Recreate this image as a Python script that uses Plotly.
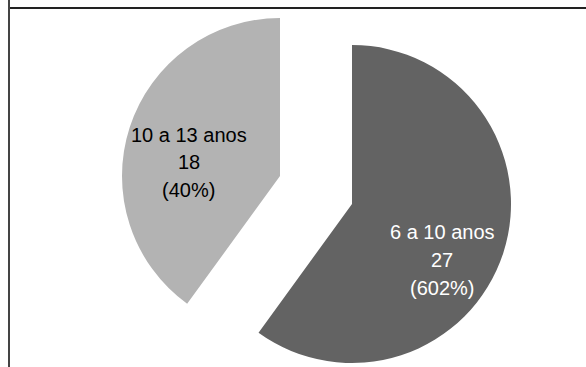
import plotly.graph_objects as go

# Faixas etárias das crianças
labels = ["6 a 10 anos", "10 a 13 anos"]
values = [27, 18]
pct_text = ["602%", "40%"]

colors = ["#636363", "#b3b3b3"]
text_colors = ["#ffffff", "#000000"]

W, H = 586, 367
FONT = "Liberation Sans, Arial, sans-serif"


def domain_for(cx, cy, r):
    # cx, cy in pixels from the top-left corner, r radius in pixels
    return dict(
        x=[(cx - r) / W, (cx + r) / W],
        y=[(H - cy - r) / H, (H - cy + r) / H],
    )


# Each exploded slice is drawn by its own trace; the other slice is left transparent
centers = [(352, 204, 159), (280, 176, 158)]
# Label block positions (centre x, first line y, line step), in pixels
label_pos = [(442, 231.5, 28), (188.5, 134.5, 28)]

fig = go.Figure()
for i in range(len(labels)):
    slice_colors = ["rgba(0,0,0,0)"] * len(labels)
    slice_colors[i] = colors[i]
    cx, cy, r = centers[i]
    fig.add_trace(go.Pie(
        labels=labels,
        values=values,
        sort=False,
        direction="clockwise",
        rotation=0,
        marker=dict(colors=slice_colors, line=dict(width=0)),
        textinfo="none",
        domain=domain_for(cx, cy, r),
        showlegend=False,
        hoverinfo="skip",
    ))

    # Data label: category, count and percentage on three lines
    lx, ly, step = label_pos[i]
    lines = [labels[i], str(values[i]), f"({pct_text[i]})"]
    for k, line in enumerate(lines):
        fig.add_annotation(
            text=line, xref="paper", yref="paper",
            x=lx / W, y=1 - (ly + k * step) / H,
            xanchor="center", yanchor="middle", showarrow=False,
            font=dict(family=FONT, size=20, color=text_colors[i]),
        )

# Frame lines of the figure box
fig.add_shape(type="line", xref="paper", yref="paper",
              x0=9 / W, x1=1, y0=1 - 8 / H, y1=1 - 8 / H,
              line=dict(color="#222222", width=2))
fig.add_shape(type="line", xref="paper", yref="paper",
              x0=9 / W, x1=9 / W, y0=0, y1=1,
              line=dict(color="#444444", width=2))

fig.update_layout(
    width=W, height=H,
    margin=dict(l=0, r=0, t=0, b=0),
    paper_bgcolor="white",
    plot_bgcolor="white",
)

fig.write_html("out.html")
